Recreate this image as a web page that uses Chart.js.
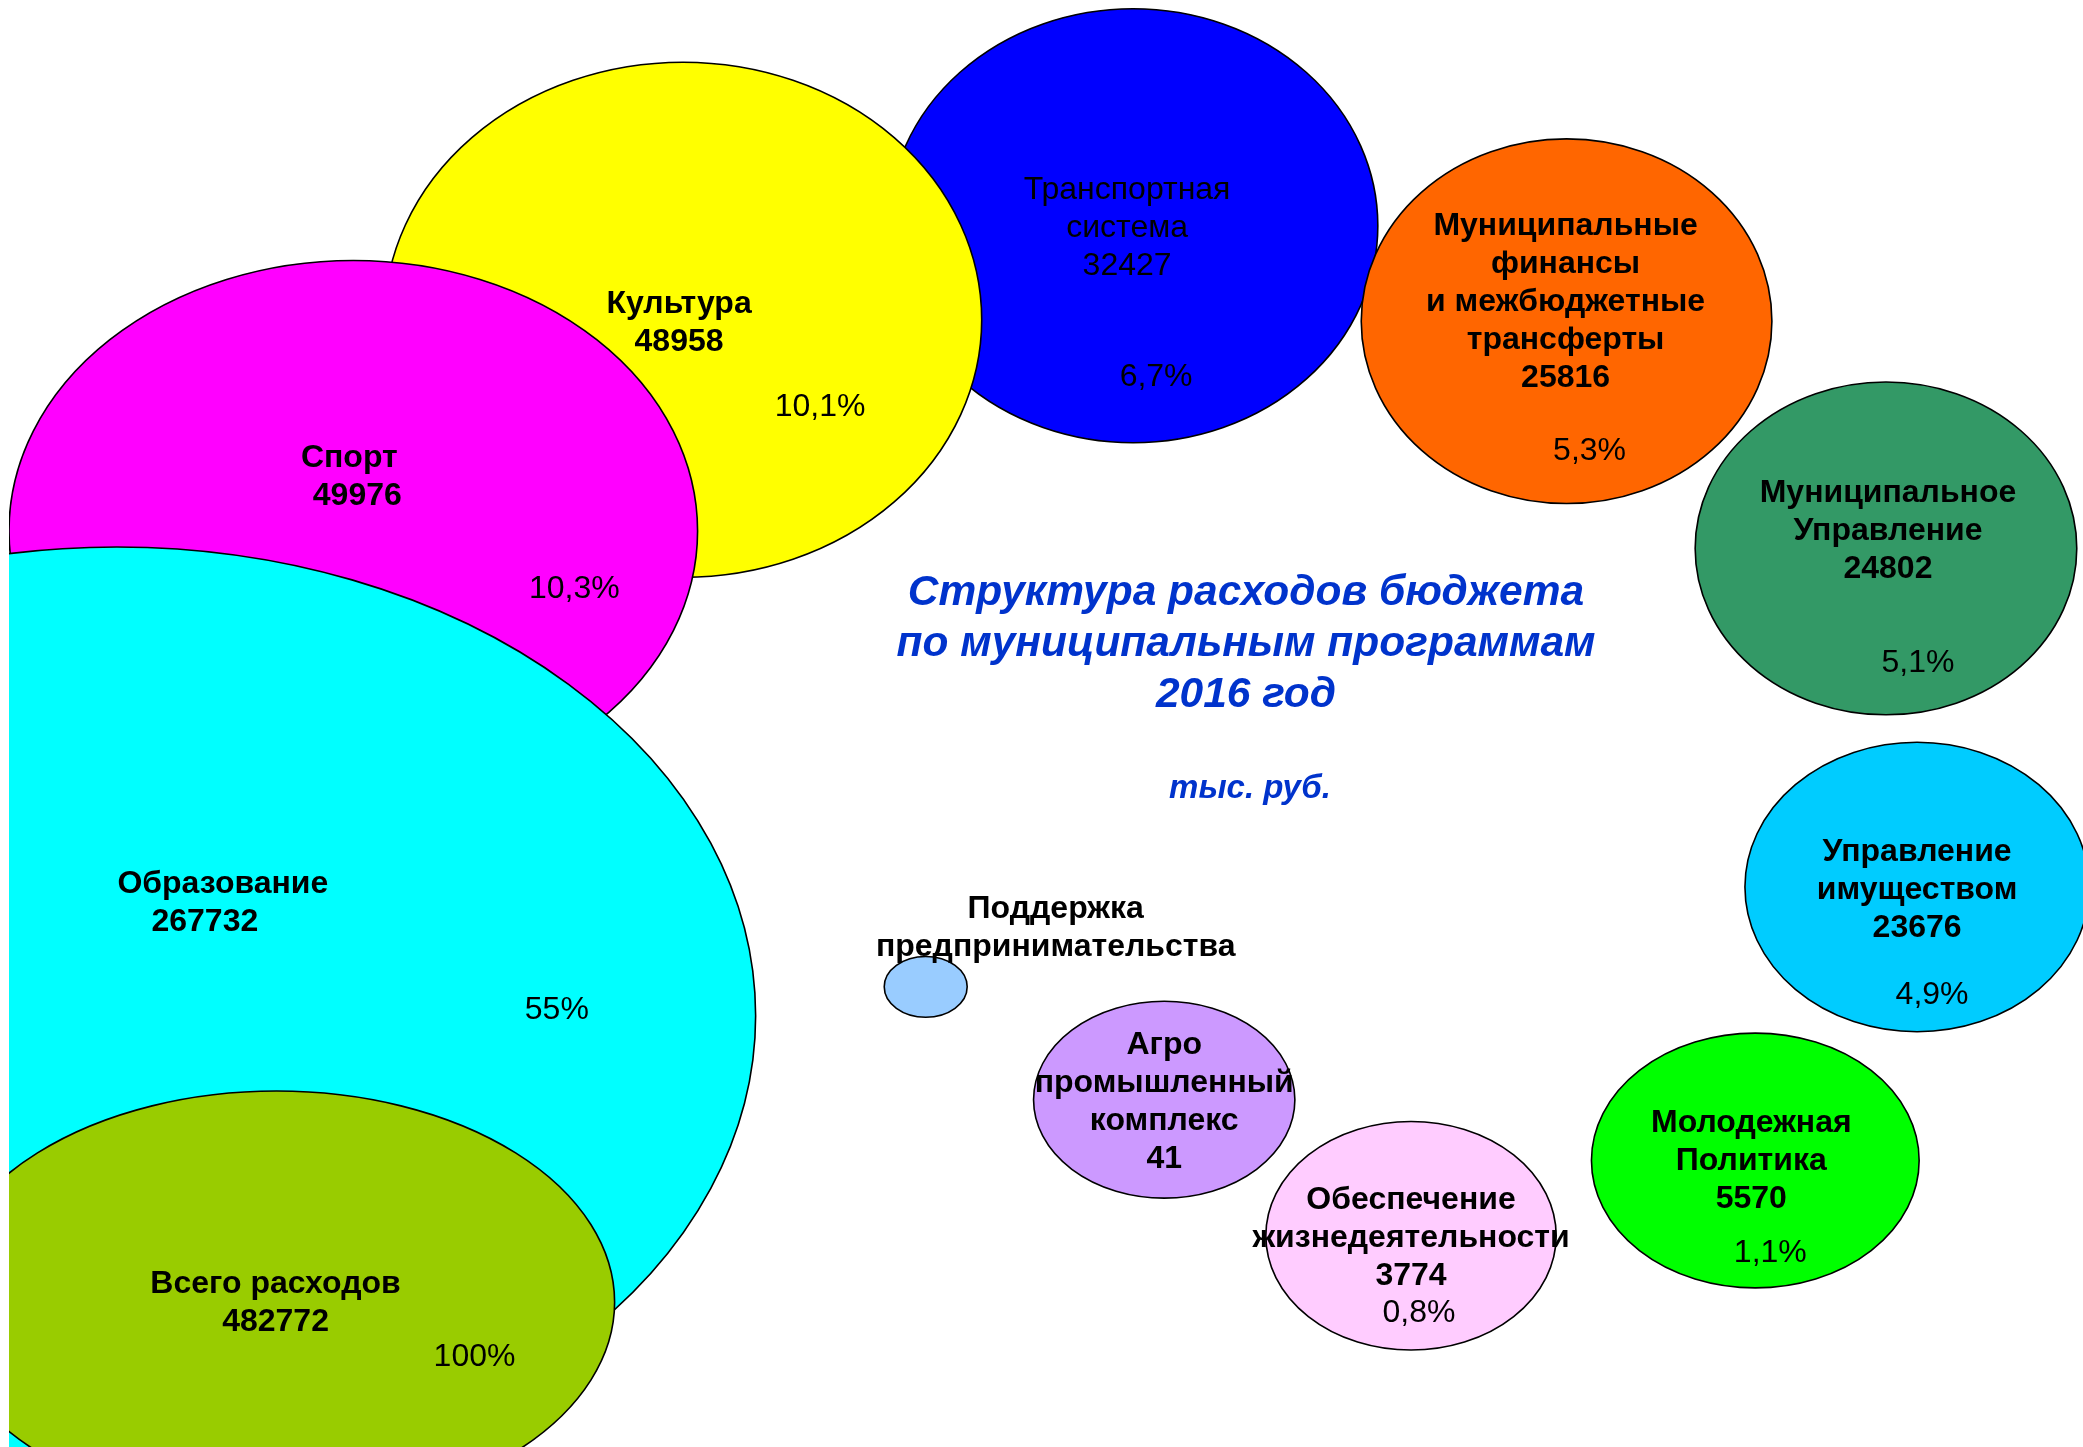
<!DOCTYPE html>
<html lang="ru">
<head>
<meta charset="utf-8">
<title>Структура расходов бюджета по муниципальным программам 2016 год</title>
<script src="https://cdn.jsdelivr.net/npm/chart.js@4.4.1/dist/chart.umd.min.js"></script>
<style>
  html, body { margin: 0; padding: 0; background: #ffffff; }
  #wrap { width: 2083px; height: 1447px; position: relative; }
</style>
</head>
<body>
<div id="wrap"><canvas id="bubbleChart"></canvas></div>
<script>
// programs, in the order the ovals are stacked (first = bottom)
const programs = [
    'Транспортная\nсистема',
    'Культура',
    'Спорт',
    'Образование',
    'Всего расходов',
    'Муниципальные\nфинансы\nи межбюджетные\nтрансферты',
    'Муниципальное\nУправление',
    'Управление\nимуществом',
    'Молодежная\nПолитика',
    'Обеспечение\nжизнедеятельности',
    'Агро\nпромышленный\nкомплекс',
    'Поддержка\nпредпринимательства',
];
const amounts = [32427, 48958, 49976, 267732, 482772, 25816, 24802, 23676, 5570, 3774, 41, null];
const shares = ['6,7%', '10,1%', '10,3%', '55%', '100%', '5,3%', '5,1%', '4,9%', '1,1%', '0,8%', '', ''];

// bubble centre and half-width / half-height, in axis units (0..100)
const bubbleX = [54.2, 32.5, 16.6, 5.2, 12.9, 75.1, 90.5, 92.0, 84.2, 67.6, 55.7, 44.2];
const bubbleY = [84.4, 77.9, 63.3, 29.8, 10.0, 77.8, 62.1, 38.7, 19.8, 14.6, 24.0, 31.8];
const bubbleW = [11.8, 14.4, 16.6, 30.8, 16.3, 9.9, 9.2, 8.3, 7.9, 7.0, 6.3, 2.0];
const bubbleH = [15.0, 17.8, 18.7, 32.4, 14.6, 12.6, 11.5, 10.0, 8.8, 7.9, 6.8, 2.1];

const fills = ['#0000FF', '#FFFF00', '#FF00FF', '#00FFFF', '#99CC00', '#FF6600',
               '#339966', '#00CCFF', '#00FF00', '#FFCCFF', '#CC99FF', '#99CCFF'];

// label placement relative to bubble centre (px)
const nameDx   = [-6, -4, -4, 106, -1, -1, 2, 0, -4, 0, 0, 130];
const nameDy   = [-36, -16, -73, -132, -18, -95, -55, -35, -37, -36, -55, -78];
const amountDx = [-6, -4, 4, 88, -1, -1, 2, 0, -4, 0, 0, 0];
const shareDx  = [23, 137, 221, 440, 198, 23, 32, 15, 15, 8, 0, 0];
const shareDy  = [151, 87, 58, -6, 55, 130, 115, 108, 93, 77, 0, 0];
const LINE = 38;

const titleLines = ['Структура расходов бюджета', 'по муниципальным программам', '2016 год'];
const unitLabel = 'тыс. руб.';

const FONT = '"Liberation Sans", Arial, sans-serif';

const ovalPlugin = {
    id: 'ovals',
    afterDatasetsDraw(chart) {
        const ctx = chart.ctx;
        const area = chart.chartArea;
        const xs = chart.scales.x;
        const ys = chart.scales.y;
        const meta = chart.getDatasetMeta(0);

        ctx.save();
        ctx.beginPath();
        ctx.rect(area.left, area.top, area.right - area.left, area.bottom - area.top);
        ctx.clip();

        meta.data.forEach((pt, i) => {
            const rx = Math.abs(xs.getPixelForValue(bubbleX[i] + bubbleW[i]) - pt.x);
            const ry = Math.abs(ys.getPixelForValue(bubbleY[i] + bubbleH[i]) - pt.y);
            ctx.beginPath();
            ctx.ellipse(pt.x, pt.y, rx, ry, 0, 0, Math.PI * 2);
            ctx.fillStyle = fills[i];
            ctx.fill();
            ctx.lineWidth = 1.6;
            ctx.strokeStyle = '#000000';
            ctx.stroke();
        });

        ctx.fillStyle = '#000000';
        ctx.textAlign = 'center';
        ctx.textBaseline = 'middle';
        meta.data.forEach((pt, i) => {
            const lines = programs[i].split('\n');
            ctx.font = (i === 0 ? '' : 'bold ') + '32px ' + FONT;
            lines.forEach((t, k) => {
                ctx.fillText(t, pt.x + nameDx[i], pt.y + nameDy[i] + k * LINE);
            });
            if (amounts[i] !== null) {
                ctx.fillText(String(amounts[i]), pt.x + amountDx[i], pt.y + nameDy[i] + lines.length * LINE);
            }
            if (shares[i]) {
                ctx.font = '32px ' + FONT;
                ctx.fillText(shares[i], pt.x + shareDx[i], pt.y + shareDy[i]);
            }
        });
        ctx.restore();

        // title in the middle of the plot
        ctx.save();
        ctx.fillStyle = '#0033CC';
        ctx.textAlign = 'center';
        ctx.textBaseline = 'alphabetic';
        ctx.font = 'italic bold 42.5px ' + FONT;
        titleLines.forEach((t, k) => ctx.fillText(t, 1246, 605 + k * 51));
        ctx.font = 'italic bold 33px ' + FONT;
        ctx.fillText(unitLabel, 1250, 798);
        ctx.restore();
    }
};

new Chart(document.getElementById('bubbleChart'), {
    type: 'bubble',
    data: {
        labels: programs,
        datasets: [{
            label: 'Расходы, тыс. руб.',
            data: bubbleX.map((x, i) => ({ x: x, y: bubbleY[i] })),
            radius: 0,
            hoverRadius: 0,
            borderWidth: 0,
            backgroundColor: 'rgba(0,0,0,0)',
        }],
    },
    options: {
        responsive: true,
        maintainAspectRatio: false,
        animation: false,
        layout: { padding: { left: 9, top: 0, right: 0, bottom: 0 } },
        scales: {
            x: { display: false, min: 0, max: 100 },
            y: { display: false, min: 0, max: 100 },
        },
        plugins: {
            legend: { display: false },
            tooltip: { enabled: false },
        },
    },
    plugins: [ovalPlugin],
});
</script>
</body>
</html>
